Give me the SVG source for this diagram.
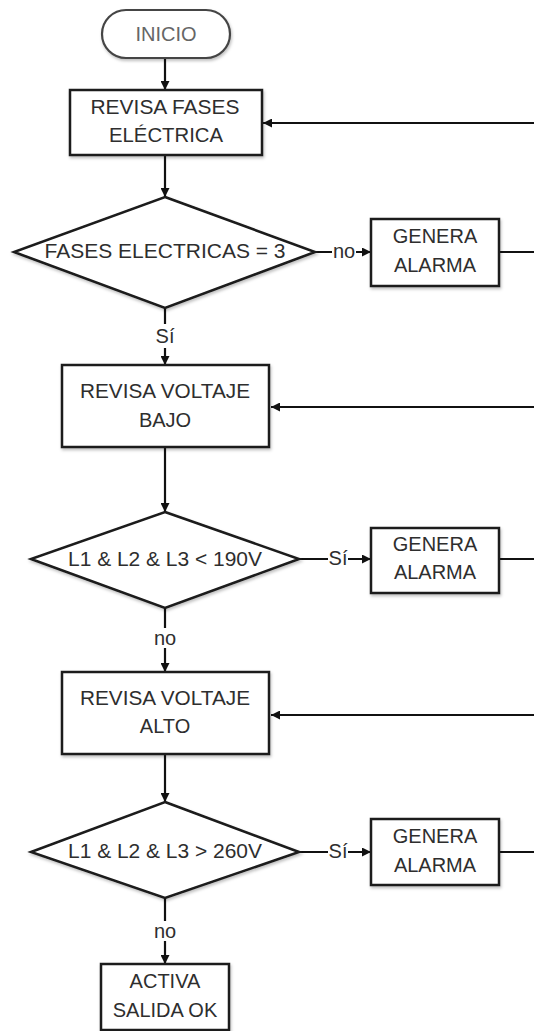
<svg xmlns="http://www.w3.org/2000/svg" width="534" height="1031" viewBox="0 0 534 1031">
<style>
.n{fill:#fff;stroke:#1a1a1a;stroke-width:2.5;filter:url(#sh)}
.t{font-family:"Liberation Sans",Arial,sans-serif;font-size:20px;fill:#2e2e2e;text-anchor:middle}
.c{stroke:#111;stroke-width:2.2;fill:none}
.lb{fill:#fff}
</style>
<defs>
<filter id="sh" x="-10%" y="-10%" width="130%" height="140%">
<feDropShadow dx="1" dy="2" stdDeviation="1.5" flood-color="#000" flood-opacity="0.25"/>
</filter>
<marker id="ah" viewBox="0 0 10 10" refX="10" refY="5" markerWidth="10" markerHeight="9" orient="auto" markerUnits="userSpaceOnUse">
<path d="M0,0 L10,5 L0,10 z" fill="#111"/>
</marker>
</defs>

<g id="connectors">
<line class="c" x1="165" y1="58" x2="165" y2="90" marker-end="url(#ah)"/>
<line class="c" x1="534" y1="123" x2="263" y2="123" marker-end="url(#ah)"/>
<line class="c" x1="165" y1="155" x2="165" y2="197" marker-end="url(#ah)"/>
<line class="c" x1="315" y1="252" x2="371" y2="252" marker-end="url(#ah)"/>
<line class="c" x1="499" y1="252" x2="534" y2="252"/>
<line class="c" x1="165" y1="308" x2="165" y2="365" marker-end="url(#ah)"/>
<line class="c" x1="534" y1="407" x2="271" y2="407" marker-end="url(#ah)"/>
<line class="c" x1="165" y1="447" x2="165" y2="512" marker-end="url(#ah)"/>
<line class="c" x1="299" y1="559" x2="371" y2="559" marker-end="url(#ah)"/>
<line class="c" x1="499" y1="559" x2="534" y2="559"/>
<line class="c" x1="165" y1="608" x2="165" y2="672" marker-end="url(#ah)"/>
<line class="c" x1="534" y1="715" x2="271" y2="715" marker-end="url(#ah)"/>
<line class="c" x1="165" y1="754" x2="165" y2="802" marker-end="url(#ah)"/>
<line class="c" x1="299" y1="852" x2="371" y2="852" marker-end="url(#ah)"/>
<line class="c" x1="499" y1="852" x2="534" y2="852"/>
<line class="c" x1="165" y1="898" x2="165" y2="964" marker-end="url(#ah)"/>

<rect class="lb" x="332" y="242" width="24" height="20"/>
<text class="t" x="344" y="258">no</text>
<rect class="lb" x="155" y="324" width="20" height="24"/>
<text class="t" x="165" y="343">Sí</text>
<rect class="lb" x="328" y="546" width="20" height="22"/>
<text class="t" x="338" y="565">Sí</text>
<rect class="lb" x="153" y="628" width="24" height="20"/>
<text class="t" x="165" y="645">no</text>
<rect class="lb" x="328" y="839" width="20" height="22"/>
<text class="t" x="338" y="858">Sí</text>
<rect class="lb" x="153" y="921" width="24" height="20"/>
<text class="t" x="165" y="938">no</text>
</g>

<g id="inicio">
<rect x="102" y="10" width="128" height="48" rx="24" ry="24" fill="#fff" stroke="#444" stroke-width="2.2" filter="url(#sh)"/>
<text class="t" x="166" y="41" style="fill:#666">INICIO</text>
</g>

<g id="revisa-fases">
<rect class="n" x="70" y="90" width="192" height="65"/>
<text class="t" x="165" y="114" textLength="149" lengthAdjust="spacingAndGlyphs">REVISA FASES</text>
<text class="t" x="166" y="142" textLength="114" lengthAdjust="spacingAndGlyphs">ELÉCTRICA</text>
</g>

<g id="dec-fases">
<polygon class="n" points="165,197 315,252 165,308 14,252"/>
<text class="t" x="165" y="258" textLength="241" lengthAdjust="spacingAndGlyphs">FASES ELECTRICAS = 3</text>
</g>

<g id="alarma-1">
<rect class="n" x="371" y="219" width="128" height="67"/>
<text class="t" x="435" y="243">GENERA</text>
<text class="t" x="435" y="272">ALARMA</text>
</g>

<g id="revisa-bajo">
<rect class="n" x="62" y="365" width="207" height="82"/>
<text class="t" x="165" y="398" textLength="170" lengthAdjust="spacingAndGlyphs">REVISA VOLTAJE</text>
<text class="t" x="165" y="427">BAJO</text>
</g>

<g id="dec-bajo">
<polygon class="n" points="165,512 299,559 165,608 31,559"/>
<text class="t" x="165" y="566" textLength="194" lengthAdjust="spacingAndGlyphs">L1 &amp; L2 &amp; L3 &lt; 190V</text>
</g>

<g id="alarma-2">
<rect class="n" x="371" y="528" width="128" height="65"/>
<text class="t" x="435" y="551">GENERA</text>
<text class="t" x="435" y="579">ALARMA</text>
</g>

<g id="revisa-alto">
<rect class="n" x="62" y="672" width="207" height="82"/>
<text class="t" x="165" y="705" textLength="170" lengthAdjust="spacingAndGlyphs">REVISA VOLTAJE</text>
<text class="t" x="165" y="733">ALTO</text>
</g>

<g id="dec-alto">
<polygon class="n" points="165,802 299,852 165,898 31,852"/>
<text class="t" x="165" y="858" textLength="194" lengthAdjust="spacingAndGlyphs">L1 &amp; L2 &amp; L3 &gt; 260V</text>
</g>

<g id="alarma-3">
<rect class="n" x="371" y="819" width="128" height="66"/>
<text class="t" x="435" y="843">GENERA</text>
<text class="t" x="435" y="872">ALARMA</text>
</g>

<g id="activa">
<rect class="n" x="101" y="964" width="128" height="66"/>
<text class="t" x="165" y="988">ACTIVA</text>
<text class="t" x="165" y="1017">SALIDA OK</text>
</g>
</svg>
